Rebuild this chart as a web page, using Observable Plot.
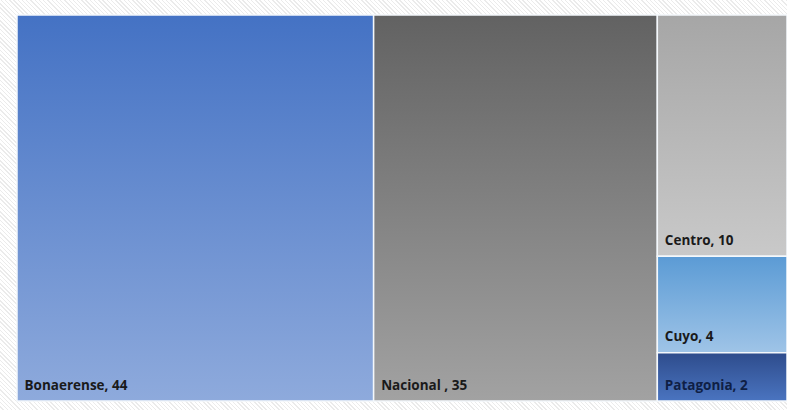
<!DOCTYPE html>
<html>
<head>
<meta charset="utf-8">
<script src="https://cdn.jsdelivr.net/npm/d3@7"></script>
<script src="https://cdn.jsdelivr.net/npm/@observablehq/plot@0.6"></script>
<style>
  html, body { margin: 0; padding: 0; }
  body {
    width: 787px; height: 410px; overflow: hidden;
    background: repeating-linear-gradient(45deg, #ffffff 0px, #ffffff 2px, #ebebeb 2px, #ebebeb 3px);
  }
</style>
</head>
<body>
<div id="chart"></div>
<script>
// Data
const regions = ["Bonaerense", "Nacional", "Centro", "Cuyo", "Patagonia"];
const values = [44, 35, 10, 4, 2];
const labels = ["Bonaerense, 44", "Nacional , 35", "Centro, 10", "Cuyo, 4", "Patagonia, 2"];
const gradTop = ["#4472c4", "#626262", "#a6a6a6", "#5b9bd5", "#2e4c8c"];
const gradBottom = ["#8eaadc", "#a2a2a2", "#c9c9c9", "#9fc4e7", "#4a74c0"];
const textColors = ["#1a1a1a", "#1a1a1a", "#1a1a1a", "#1a1a1a", "#0f1f45"];
// the three smaller regions share the third column
const stacked = ["Centro", "Cuyo", "Patagonia"];

const W = 787, H = 410;
const mL = 17, mT = 15, mR = 0, mB = 9;
const innerW = W - mL - mR, innerH = H - mT - mB;

const items = regions.map((r, i) => ({name: r, value: values[i], label: labels[i], i}));
const tree = {
  children: [
    ...items.filter(d => !stacked.includes(d.name)),
    {children: items.filter(d => stacked.includes(d.name))}
  ]
};
const root = d3.hierarchy(tree).sum(d => d.value || 0);
d3.treemap().tile(d3.treemapSliceDice).size([innerW, innerH]).padding(0)(root);
const tiles = root.leaves().map(n => ({...n.data, x0: n.x0, x1: n.x1, y0: n.y0, y1: n.y1}));

const plot = Plot.plot({
  width: W,
  height: H,
  marginLeft: mL, marginTop: mT, marginRight: mR, marginBottom: mB,
  style: {background: "transparent", overflow: "visible"},
  x: {type: "linear", domain: [0, innerW], axis: null},
  y: {type: "linear", domain: [0, innerH], range: [mT, H - mB], axis: null},
  color: {type: "identity"},
  marks: [
    Plot.rect(tiles, {
      x1: "x0", x2: "x1", y1: "y0", y2: "y1",
      fill: d => `url(#grad${d.i})`,
      stroke: "#f4f8fc", strokeWidth: 1.5
    }),
    Plot.text(tiles, {
      x: d => d.x0 + 7,
      y: "y1",
      dy: -12,
      text: "label",
      textAnchor: "start",
      lineAnchor: "bottom",
      fill: d => textColors[d.i],
      fontFamily: "'Open Sans', 'Noto Sans', sans-serif",
      fontWeight: 700,
      fontSize: 13.5
    })
  ]
});

// gradient definitions
const svg = d3.select(plot);
const defs = svg.insert("defs", ":first-child");
regions.forEach((r, i) => {
  const g = defs.append("linearGradient")
    .attr("id", `grad${i}`).attr("x1", 0).attr("y1", 0).attr("x2", 0).attr("y2", 1);
  g.append("stop").attr("offset", "0%").attr("stop-color", gradTop[i]);
  g.append("stop").attr("offset", "100%").attr("stop-color", gradBottom[i]);
});

document.getElementById("chart").appendChild(plot);
</script>
</body>
</html>
